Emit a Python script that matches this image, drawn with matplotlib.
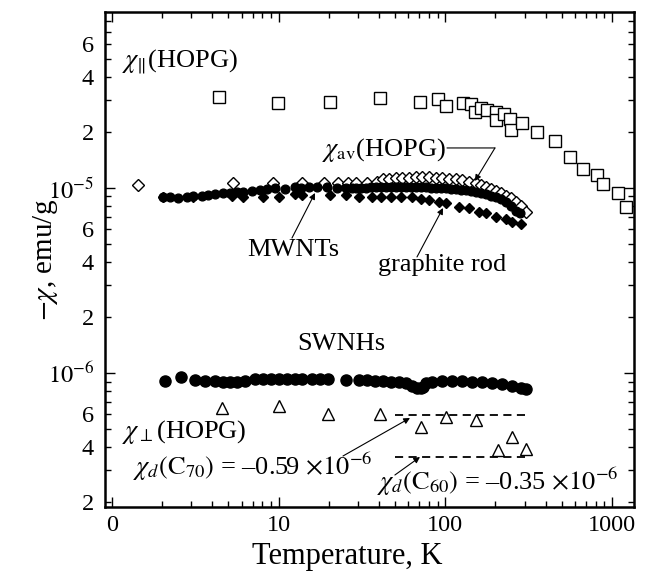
import matplotlib
matplotlib.use("Agg")
import matplotlib.pyplot as plt
from matplotlib.ticker import FixedLocator, FixedFormatter, NullFormatter

plt.rcParams['font.family'] = ['Liberation Serif', 'DejaVu Serif']
plt.rcParams['mathtext.fontset'] = 'stix'

# ---- data: temperature (K) and -chi (emu/g) ----
hopg_par_T = [4.37, 9.86, 20.2, 40.8, 70.8, 90.8, 101, 128, 143, 151, 164, 178, 202, 202,
              226, 245, 248, 289, 356, 456, 561, 670, 813, 883, 1087, 1213]
hopg_par_chi = [3.10e-5, 2.88e-5, 2.92e-5, 3.06e-5, 2.92e-5, 3.03e-5, 2.77e-5, 2.88e-5, 2.85e-5,
                2.58e-5, 2.71e-5, 2.64e-5, 2.58e-5, 2.33e-5, 2.51e-5, 2.36e-5, 2.06e-5, 2.25e-5,
                2.01e-5, 1.80e-5, 1.47e-5, 1.27e-5, 1.18e-5, 1.05e-5, 0.94e-5, 0.79e-5]

hopg_av_T = [1.43, 5.3, 9.2, 13.9, 18.6, 22.6, 25.9, 29.3, 34.1, 39.1, 42.0, 46.2, 50.9, 55.3,
             60.9, 67.0, 72.8, 80.2, 88.3, 95.9, 105.7, 116.4, 126.4, 139.2, 153.4, 164.3, 176.1,
             188.5, 202, 216, 232, 248, 266, 285, 305]
hopg_av_chi = [1.04e-5, 1.066e-5, 1.07e-5, 1.07e-5, 1.07e-5, 1.07e-5, 1.07e-5, 1.07e-5, 1.07e-5,
               1.08e-5, 1.118e-5, 1.118e-5, 1.133e-5, 1.133e-5, 1.133e-5, 1.147e-5, 1.147e-5,
               1.147e-5, 1.133e-5, 1.133e-5, 1.118e-5, 1.118e-5, 1.105e-5, 1.077e-5, 1.064e-5,
               1.038e-5, 1.012e-5, 0.988e-5, 0.964e-5, 0.94e-5, 0.906e-5, 0.883e-5, 0.84e-5,
               0.80e-5, 0.741e-5]

mwnt_T = [2.02, 2.22, 2.48, 2.81, 3.06, 3.46, 3.76, 4.14, 4.62, 5.09, 5.60, 6.09, 6.88, 7.70,
          8.46, 9.47, 10.85, 12.5, 13.7, 15.3, 17.1, 19.4, 22.3, 25.5, 27.4, 29.3, 31.4, 33.6,
          36.0, 38.6, 41.4, 44.3, 47.5, 50.9, 54.5, 58.4, 62.6, 67.0, 71.8, 76.9, 82.4, 88.3,
          94.6, 101.4, 108.6, 116.4, 124.7, 133.6, 143.2, 153.4, 164.3, 176.1, 188.5, 202, 216,
          232, 248, 266, 281]
mwnt_chi = [8.94e-6, 8.94e-6, 8.83e-6, 8.94e-6, 9.05e-6, 9.05e-6, 9.17e-6, 9.29e-6, 9.40e-6,
            9.40e-6, 9.52e-6, 9.52e-6, 9.64e-6, 9.76e-6, 9.88e-6, 10.0e-6, 9.88e-6, 10.12e-6,
            10.0e-6, 10.12e-6, 10.12e-6, 10.12e-6, 10.0e-6, 10.0e-6, 10.0e-6, 10.0e-6, 10.0e-6,
            10.0e-6, 10.12e-6, 10.12e-6, 10.12e-6, 10.12e-6, 10.12e-6, 10.12e-6, 10.12e-6,
            10.12e-6, 10.12e-6, 10.12e-6, 10.12e-6, 10.12e-6, 10.0e-6, 10.0e-6, 10.0e-6, 10.0e-6,
            9.88e-6, 9.88e-6, 9.76e-6, 9.76e-6, 9.64e-6, 9.52e-6, 9.40e-6, 9.29e-6, 9.05e-6,
            8.94e-6, 8.72e-6, 8.40e-6, 8.00e-6, 7.51e-6, 7.32e-6]

rod_T = [2.02, 3.06, 5.23, 6.09, 8.02, 10.1, 12.5, 13.9, 20.2, 25.5, 30.5, 36.1, 41.4, 47.5,
         54.5, 63.4, 71.8, 80.2, 92, 101, 121, 139, 160, 176, 202, 232, 252, 285]
rod_chi = [8.94e-6, 8.94e-6, 9.05e-6, 8.94e-6, 8.94e-6, 8.94e-6, 9.29e-6, 9.17e-6, 9.17e-6,
           9.17e-6, 8.94e-6, 8.94e-6, 8.94e-6, 8.94e-6, 8.94e-6, 8.94e-6, 8.72e-6, 8.61e-6,
           8.40e-6, 8.30e-6, 7.89e-6, 7.80e-6, 7.41e-6, 7.32e-6, 6.97e-6, 6.80e-6, 6.55e-6,
           6.39e-6]

swnh_T = [2.08, 2.59, 3.14, 3.60, 4.14, 4.62, 5.09, 5.60, 6.26, 7.18, 8.02, 8.96, 10.1, 11.3,
          12.5, 13.9, 15.8, 17.6, 19.7, 25.5, 30.5, 34.1, 37.6, 42.0, 47.5, 53.0, 58.4, 63.4,
          68.0, 71.8, 73.8, 76.9, 83.6, 95.9, 110, 126, 145, 167, 191, 219, 252, 285, 305]
swnh_chi = [9.05e-7, 9.51e-7, 9.17e-7, 9.05e-7, 9.05e-7, 8.94e-7, 8.94e-7, 8.94e-7, 9.05e-7,
            9.28e-7, 9.28e-7, 9.28e-7, 9.28e-7, 9.28e-7, 9.28e-7, 9.28e-7, 9.28e-7, 9.28e-7,
            9.28e-7, 9.17e-7, 9.17e-7, 9.17e-7, 9.05e-7, 9.05e-7, 8.94e-7, 8.94e-7, 8.83e-7,
            8.51e-7, 8.30e-7, 8.30e-7, 8.40e-7, 8.83e-7, 8.94e-7, 9.05e-7, 9.05e-7, 9.05e-7,
            8.94e-7, 8.94e-7, 8.83e-7, 8.72e-7, 8.51e-7, 8.30e-7, 8.19e-7]

hopg_perp_T = [4.56, 10.1, 19.7, 40.3, 71.8, 101, 153, 208, 252, 305]
hopg_perp_chi = [6.47e-7, 6.63e-7, 6.0e-7, 6.0e-7, 5.11e-7, 5.78e-7, 5.57e-7, 3.84e-7,
                 4.51e-7, 3.88e-7]

# diamagnetic reference levels of C70 and C60
c70_T = [50, 300]
c70_chi = 0.59e-6
c60_T = [50, 300]
c60_chi = 0.35e-6

x_ticks = [1, 10, 100, 1000]
x_tick_labels = ['0', '10', '100', '1000']
y_major = [1e-6, 1e-5]
y_major_labels = [r'$10^{-6}$', r'$10^{-5}$']

# ---- figure ----
fig = plt.figure(figsize=(6.46, 5.73), dpi=100)
ax = fig.add_axes([0.1625, 0.1152, 0.8189, 0.8639])
ax.set_xscale('log')
ax.set_yscale('log')
ax.set_xlim(0.908, 1355)
ax.set_ylim(1.89e-7, 8.93e-5)

ax.plot(hopg_par_T, hopg_par_chi, ls='none', marker='s', ms=8, mfc='white',
        mec='black', mew=1.0, zorder=3)
ax.plot(hopg_av_T, hopg_av_chi, ls='none', marker='D', ms=6.5, mfc='white',
        mec='black', mew=1.0, zorder=3)
ax.plot(mwnt_T, mwnt_chi, ls='none', marker='o', ms=6.3, mfc='black',
        mec='black', zorder=4)
ax.plot(rod_T, rod_chi, ls='none', marker='D', ms=5, mfc='black',
        mec='black', zorder=4)
ax.plot(swnh_T, swnh_chi, ls='none', marker='o', ms=8, mfc='black',
        mec='black', zorder=4)
ax.plot(hopg_perp_T, hopg_perp_chi, ls='none', marker='^', ms=8, mfc='white',
        mec='black', mew=1.0, zorder=3)

ax.plot(c70_T, [c70_chi] * 2, color='black', lw=1.3, ls=(0, (4.5, 3)), zorder=2)
ax.plot(c60_T, [c60_chi] * 2, color='black', lw=1.3, ls=(0, (4.5, 3)), zorder=2)

# ---- axes styling ----
for sp in ax.spines.values():
    sp.set_linewidth(1.8)

ax.xaxis.set_major_locator(FixedLocator(x_ticks))
ax.xaxis.set_major_formatter(FixedFormatter(x_tick_labels))
x_minor = [m * d for d in (1, 10, 100, 1000) for m in range(2, 10)]
ax.xaxis.set_minor_locator(FixedLocator(x_minor))
ax.xaxis.set_minor_formatter(NullFormatter())

ax.yaxis.set_major_locator(FixedLocator(y_major))
ax.yaxis.set_major_formatter(FixedFormatter(y_major_labels))
y_minor = [m * d for d in (1e-7, 1e-6, 1e-5) for m in range(2, 10)]
y_minor_labels = [str(m) if m in (2, 4, 6) else '' for d in (1e-7, 1e-6, 1e-5)
                  for m in range(2, 10)]
ax.yaxis.set_minor_locator(FixedLocator(y_minor))
ax.yaxis.set_minor_formatter(FixedFormatter(y_minor_labels))

ax.tick_params(which='both', direction='in', top=True, right=True, labelsize=17.5,
               width=1.0, pad=5.5)
ax.tick_params(which='major', length=7.5)
ax.tick_params(which='minor', length=4)
ax.tick_params(axis='y', which='both', pad=8)

ax.set_xlabel('Temperature, K', fontsize=22)
ax.xaxis.set_label_coords(0.458, -0.115)
ax.xaxis.label.set_va('baseline')
ax.set_ylabel(r'$-\chi$, emu/g', fontsize=21)
ax.yaxis.set_label_coords(-0.113, 0.50)
ax.yaxis.label.set_va('center')

# ---- labels and arrows ----
tkw = dict(transform=ax.transAxes, fontsize=19, va='center', ha='left')
ax.text(0.032, 0.899, r'$\chi_{\|}$(HOPG)', **tkw)
ax.text(0.410, 0.721, r'$\chi_{\mathrm{av}}$(HOPG)', **tkw)
ax.text(0.268, 0.519, 'MWNTs', **tkw)
ax.text(0.516, 0.489, 'graphite rod', **tkw)
ax.text(0.363, 0.329, 'SWNHs', **tkw)
ax.text(0.032, 0.152, r'$\chi_{\perp}$(HOPG)', **tkw)
ax.text(0.053, 0.081, r'$\chi_d(\mathrm{C}_{70})$ = –0.59 $\times 10^{-6}$', **tkw)
ax.text(0.514, 0.051, r'$\chi_d(\mathrm{C}_{60})$ = –0.35 $\times 10^{-6}$', **tkw)

akw = dict(arrowstyle='-|>', lw=0.8, color='black', mutation_scale=9,
           shrinkA=0, shrinkB=0)
ax.annotate('', xy=(0.7372, 0.7253), xytext=(0.6465, 0.7253), xycoords='axes fraction',
            arrowprops=dict(arrowstyle='-', lw=0.8, color='black', shrinkA=0, shrinkB=0))
ax.annotate('', xy=(0.6994, 0.6586), xytext=(0.7372, 0.7253), xycoords='axes fraction',
            arrowprops=akw)
ax.annotate('', xy=(0.397, 0.6343), xytext=(0.3535, 0.5434), xycoords='axes fraction',
            arrowprops=akw)
ax.annotate('', xy=(0.639, 0.604), xytext=(0.5898, 0.5051), xycoords='axes fraction',
            arrowprops=akw)
ax.annotate('', xy=(0.5766, 0.1798), xytext=(0.4499, 0.1030), xycoords='axes fraction',
            arrowprops=akw)
ax.annotate('', xy=(0.5955, 0.101), xytext=(0.548, 0.0646), xycoords='axes fraction',
            arrowprops=akw)

fig.savefig('out.png', dpi=100)
